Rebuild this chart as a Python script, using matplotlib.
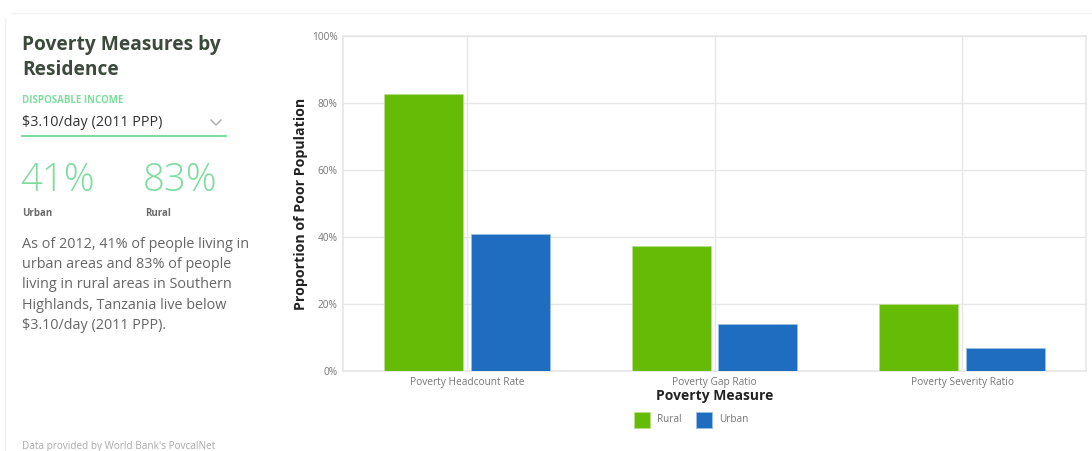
import matplotlib
matplotlib.use("Agg")
import matplotlib.pyplot as plt
from matplotlib.patches import Rectangle
from matplotlib.lines import Line2D
from matplotlib.ticker import PercentFormatter

measures = ["Poverty Headcount Rate", "Poverty Gap Ratio", "Poverty Severity Ratio"]
rural = [82.7, 37.2, 19.9]
urban = [40.8, 14.1, 6.8]
y_ticks = [0, 20, 40, 60, 80, 100]

urban_share = "41%"
rural_share = "83%"
income_line = "$3.10/day (2011 PPP)"
summary = ["As of 2012, 41% of people living in",
           "urban areas and 83% of people",
           "living in rural areas in Southern",
           "Highlands, Tanzania live below",
           "$3.10/day (2011 PPP)."]

GREEN = "#66bb06"
BLUE = "#1e6dc0"
MINT = "#7fdc9f"
GRID = "#e6e6e6"

W, H = 1092, 451
plt.rcParams["font.family"] = ["Open Sans", "DejaVu Sans"]

fig = plt.figure(figsize=(W / 100, H / 100), dpi=100)
fig.patch.set_facecolor("white")


def px(x, y):
    return x / W, 1 - y / H


# faint card borders
fig.add_artist(Line2D([12 / W, 1], [1 - 13 / H] * 2, color="#f2f2f2", lw=1))
fig.add_artist(Line2D([5 / W] * 2, [1 - 18 / H, 0], color="#f2f2f2", lw=1))

# left side panel
fig.text(*px(22, 45), "Poverty Measures by", fontsize=13.8, fontweight="bold",
         color="#3b4a3a", va="center")
fig.text(*px(22, 70), "Residence", fontsize=13.8, fontweight="bold",
         color="#3b4a3a", va="center")
fig.text(*px(22, 101), "DISPOSABLE INCOME", fontsize=7, fontweight="bold",
         color=MINT, va="center")
fig.text(*px(22, 123), income_line, fontsize=10.4, color="#333333", va="center")
fig.add_artist(Line2D([211 / W, 216 / W, 221 / W], [1 - 120 / H, 1 - 125 / H, 1 - 120 / H],
                      color="#aaaaaa", lw=1))
fig.add_artist(Line2D([22 / W, 226 / W], [1 - 136 / H] * 2, color=MINT, lw=1.5))
fig.text(*px(20, 181), urban_share, fontsize=27.5, fontweight="light", color=MINT, va="center")
fig.text(*px(143, 181), rural_share, fontsize=27.5, fontweight="light", color=MINT, va="center")
fig.text(*px(22, 213), "Urban", fontsize=7, fontweight="bold", color="#6b6b6b", va="center")
fig.text(*px(145, 213), "Rural", fontsize=7, fontweight="bold", color="#6b6b6b", va="center")
for i, line in enumerate(summary):
    fig.text(*px(22, 244 + i * 20.4), line, fontsize=10.4, color="#666666", va="center")
fig.text(*px(22, 447), "Data provided by World Bank's PovcalNet", fontsize=7.2,
         color="#aaaaaa", va="center")

# bar chart
ax = fig.add_axes([343 / W, 80 / H, 743 / W, 335 / H])
x = list(range(len(measures)))
bw = 0.319
off = 0.175
ax.bar([i - off for i in x], rural, width=bw, color=GREEN, edgecolor="#b8e08a",
       linewidth=0.6, zorder=3)
ax.bar([i + off for i in x], urban, width=bw, color=BLUE, edgecolor="#9cc0e6",
       linewidth=0.6, zorder=3)

ax.set_xlim(-0.5, len(measures) - 0.5)
ax.set_ylim(0, 100)
ax.set_yticks(y_ticks)
ax.yaxis.set_major_formatter(PercentFormatter(decimals=0))
ax.set_xticks(x)
ax.set_xticklabels(measures)
ax.tick_params(length=0, labelsize=7.3, labelcolor="#777777", pad=4)
ax.grid(True, color=GRID, lw=1, zorder=0)
for s in ax.spines.values():
    s.set_color(GRID)
    s.set_linewidth(1.2)

ax.set_ylabel("Proportion of Poor Population", fontsize=10.2, fontweight="bold",
              color="#222222", labelpad=3)
ax.set_xlabel("Poverty Measure", fontsize=10, fontweight="bold", color="#222222",
              labelpad=1)

# legend
for lx, name, col, ec in [(634, "Rural", GREEN, "#b8e08a"), (696, "Urban", BLUE, "#9cc0e6")]:
    fig.add_artist(Rectangle((lx / W, 1 - 428 / H), 16 / W, 16 / H, facecolor=col,
                             edgecolor=ec, lw=0.6, transform=fig.transFigure))
    fig.text(*px(lx + 23, 420), name, fontsize=7.2, color="#777777", va="center")

fig.savefig("out.png", dpi=100, facecolor="white")
